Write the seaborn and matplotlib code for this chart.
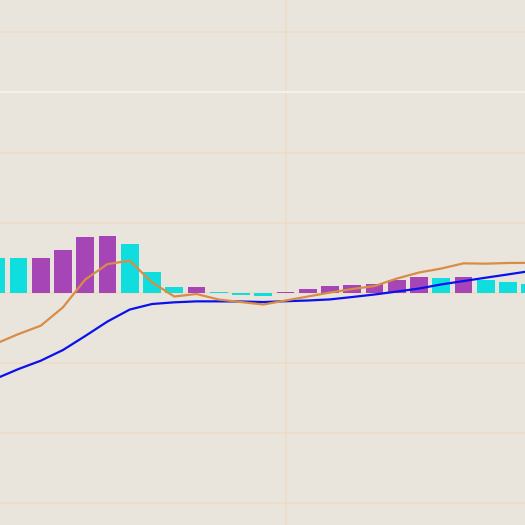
import matplotlib
matplotlib.use("Agg")
import matplotlib.pyplot as plt
import numpy as np
import pandas as pd
import seaborn as sns

# MACD panel, 25 sessions
session = list(range(25))
macd = [-0.721, -0.586, -0.467, -0.204, 0.193, 0.414, 0.461, 0.153, -0.050, -0.014,
        -0.093, -0.129, -0.164, -0.107, -0.050, 0.007, 0.057, 0.100, 0.207, 0.293,
        0.350, 0.424, 0.419, 0.429, 0.431]
signal = [-1.221, -1.086, -0.967, -0.814, -0.614, -0.407, -0.236, -0.157, -0.133, -0.119,
          -0.119, -0.121, -0.129, -0.117, -0.107, -0.091, -0.057, -0.021, 0.021, 0.064,
          0.123, 0.171, 0.219, 0.266, 0.314]
hist = [0.500, 0.500, 0.507, 0.614, 0.800, 0.814, 0.700, 0.300, 0.089, 0.091,
        0.017, -0.026, -0.037, 0.016, 0.057, 0.100, 0.114, 0.129, 0.186, 0.229,
        0.214, 0.236, 0.186, 0.157, 0.129]

grid_levels = [-3, -2, -1, 0, 1, 2, 3.73]
ref_level = 2.87
tick_session = [13]

df = pd.DataFrame({'session': session, 'macd': macd, 'signal': signal, 'hist': hist})
# purple when the histogram grows vs. the previous bar, cyan otherwise
df['trend'] = np.where(df['hist'].diff() > 0, 'up', 'down')

sns.set_theme(style='whitegrid', rc={
    'axes.facecolor': '#e9e5dc',
    'figure.facecolor': '#e9e5dc',
    'grid.color': '#efdbc6',
    'grid.linewidth': 1.1,
})

fig = plt.figure(figsize=(5.25, 5.25), dpi=100)
ax = fig.add_axes([0, 0, 1, 1])

sns.barplot(data=df, x='session', y='hist', hue='trend',
            palette={'up': '#a646b6', 'down': '#10dede'},
            dodge=False, width=0.8, saturation=1, errorbar=None,
            legend=False, linewidth=0, ax=ax)
sns.lineplot(data=df, x='session', y='signal', color='#0a10ee', lw=1.6, ax=ax)
sns.lineplot(data=df, x='session', y='macd', color='#d98c45', lw=1.6, ax=ax)

ax.axhline(ref_level, color='#f3f1ed', lw=1.6, zorder=1)

ax.set_xlim(0.17, 23.76)
ax.set_ylim(-3.314, 4.186)
ax.set_yticks(grid_levels)
ax.set_xticks(tick_session)
ax.xaxis.grid(True)
ax.yaxis.grid(True)
ax.tick_params(labelleft=False, labelbottom=False, length=0)
ax.set_xlabel('')
ax.set_ylabel('')
for s in ax.spines.values():
    s.set_visible(False)

plt.savefig('out.png', dpi=100)
